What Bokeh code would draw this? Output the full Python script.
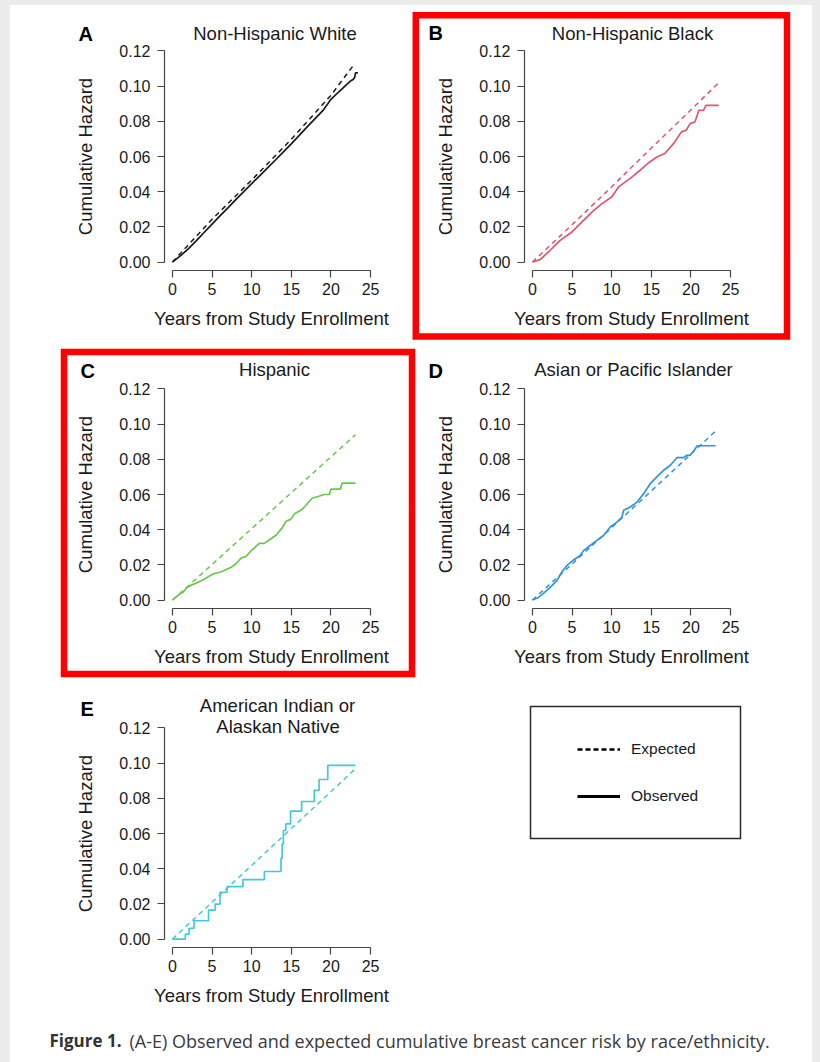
from bokeh.plotting import figure
from bokeh.layouts import row, column
from bokeh.models import (Range1d, FixedTicker, NumeralTickFormatter, Label,
                          BoxAnnotation, Legend, LegendItem, Spacer)
from bokeh.embed import file_html
from bokeh.resources import INLINE

# ---------------- data ----------------
x_ticks = [0, 5, 10, 15, 20, 25]
y_ticks = [0.00, 0.02, 0.04, 0.06, 0.08, 0.10, 0.12]
x_axis_label = "Years from Study Enrollment"
y_axis_label = "Cumulative Hazard"

# A  Non-Hispanic White
white_exp_x = [0, 5, 10, 15, 20, 23.0]
white_exp_y = [0, 0.0243, 0.0466, 0.0698, 0.0948, 0.1128]
white_obs_x = [0, 1, 2, 3, 4, 5, 6, 7, 8, 9, 10, 11, 12, 13, 14, 15, 16, 17,
               18, 19, 20, 21, 22, 22.5, 22.8, 23.0, 23.1, 23.4]
white_obs_y = [0, 0.0035, 0.0075, 0.0120, 0.0168, 0.0216, 0.0262, 0.0308,
               0.0355, 0.0400, 0.0446, 0.0490, 0.0535, 0.0580, 0.0626, 0.0672,
               0.0720, 0.0768, 0.0815, 0.0862, 0.0925, 0.0968, 0.1010, 0.1030,
               0.1038, 0.1050, 0.1075, 0.1075]

# B  Non-Hispanic Black
black_exp_x = [0, 5, 10, 15, 20, 23.4]
black_exp_y = [0, 0.0212, 0.0428, 0.0648, 0.0865, 0.1015]
black_obs_x = [0, 0.97, 2.24, 3.5, 4.98, 6.45, 7.5, 8.77, 10.0, 10.87, 12.3,
               13.6, 14.8, 15.7, 16.7, 17.8, 18.8, 19.4, 19.9, 20.5, 21.0,
               21.6, 21.9, 23.5]
black_obs_y = [0, 0.0014, 0.0067, 0.0123, 0.0171, 0.0237, 0.0284, 0.0332,
               0.0370, 0.0427, 0.0474, 0.0522, 0.0569, 0.0597, 0.0617, 0.0673,
               0.0740, 0.0749, 0.0787, 0.0796, 0.0863, 0.0863, 0.0891, 0.0891]

# C  Hispanic
hisp_exp_x = [0, 5, 10, 15, 20, 23.1]
hisp_exp_y = [0, 0.0202, 0.0406, 0.0610, 0.0814, 0.0940]
hisp_obs_x = [0, 0.5, 0.92, 1.34, 1.76, 2.39, 3.2, 4.06, 5.1, 6.16, 7.4, 8.0,
              8.67, 9.3, 9.92, 10.97, 11.6, 12.2, 13.1, 13.9, 14.3, 14.95,
              15.4, 16.2, 16.8, 17.25, 17.67, 18.5, 19.1, 19.8, 20.0, 21.2,
              21.4, 23.1]
hisp_obs_y = [0, 0.0019, 0.0034, 0.0044, 0.0068, 0.0085, 0.0100, 0.0120,
              0.0148, 0.0161, 0.0186, 0.0205, 0.0239, 0.0248, 0.0280, 0.0322,
              0.0322, 0.0341, 0.0370, 0.0413, 0.0447, 0.0460, 0.0490, 0.0510,
              0.0536, 0.0560, 0.0580, 0.0590, 0.0600, 0.0600, 0.0630, 0.0630,
              0.0665, 0.0665]

# D  Asian or Pacific Islander
asian_exp_x = [0, 5, 10, 15, 20, 23.1]
asian_exp_y = [0, 0.0205, 0.0412, 0.0620, 0.0830, 0.0960]
asian_obs_x = [0, 0.76, 1.39, 2.23, 3.08, 3.7, 4.34, 5.19, 6.03, 6.45, 7.29,
               8.14, 8.98, 9.82, 10.67, 11.3, 11.5, 12.35, 13.2, 14.04, 14.88,
               15.7, 16.57, 17.4, 18.25, 19.1, 19.5, 19.9, 20.4, 20.8, 21.4,
               23.1]
asian_obs_y = [0, 0.0015, 0.0038, 0.0072, 0.0110, 0.0158, 0.0196, 0.0228,
               0.0253, 0.0281, 0.0310, 0.0339, 0.0367, 0.0415, 0.0443, 0.0472,
               0.0510, 0.0529, 0.0557, 0.0605, 0.0662, 0.0700, 0.0738, 0.0766,
               0.0810, 0.0810, 0.0823, 0.0823, 0.0852, 0.0877, 0.0877, 0.0877]

# E  American Indian or Alaskan Native (step function)
aian_exp_x = [0, 7, 15, 23.1]
aian_exp_y = [0, 0.0293, 0.0628, 0.0968]
aian_obs_x = [0, 1.63, 2.1, 2.72, 4.56, 5.4, 6.0, 6.9, 8.9, 11.6, 13.7, 13.85,
              14.0, 14.3, 14.9, 16.3, 17.9, 18.5, 19.6, 23.1]
aian_obs_y = [0, 0.0028, 0.0061, 0.0104, 0.0165, 0.0199, 0.0266, 0.0298,
              0.0338, 0.0384, 0.0460, 0.0540, 0.0617, 0.0655, 0.0727, 0.0782,
              0.0845, 0.0907, 0.0987, 0.0987]

legend_labels = ["Expected", "Observed"]
caption_bold = "Figure 1."
caption_text = "(A-E) Observed and expected cumulative breast cancer risk by race/ethnicity."

# ---------------- layout / style ----------------
X_LO, X_HI = -1.0, 26.0          # R-style 4% padding of 0..25
Y_LO, Y_HI = -0.0048, 0.1248     # R-style 4% padding of 0..0.12
SX = 214 / (X_HI - X_LO)         # px per year
SY = 228 / (Y_HI - Y_LO)         # px per hazard unit
FONT = "Liberation Sans"
TXT = "#1a1a1a"
LIFT = 7                         # baseline correction for Label text (px)


def panel(W, H, L, T, color, exp_x, exp_y, obs_x, obs_y, step,
          letter, letter_pos, titles, box=None):
    # canvas covers the whole cell; data box starts at canvas px (L, T)
    x0 = X_LO - L / SX
    y1 = Y_HI + T / SY
    p = figure(width=W, height=H,
               x_range=Range1d(x0, x0 + W / SX),
               y_range=Range1d(y1 - H / SY, y1),
               output_backend="svg", toolbar_location=None,
               min_border=0, min_border_left=0, min_border_right=0,
               min_border_top=0, min_border_bottom=0,
               background_fill_color="white", border_fill_color="white",
               outline_line_color=None)

    def cx(px):
        return x0 + px / SX

    def cy(py):
        return y1 - py / SY

    p.grid.visible = False
    p.xaxis.fixed_location = Y_LO
    p.yaxis.fixed_location = X_LO
    p.xaxis.ticker = FixedTicker(ticks=x_ticks)
    p.yaxis.ticker = FixedTicker(ticks=y_ticks)
    p.xaxis.bounds = (x_ticks[0], x_ticks[-1])
    p.yaxis.bounds = (y_ticks[0], y_ticks[-1])
    p.yaxis.formatter = NumeralTickFormatter(format="0.00")
    p.xaxis.axis_label = x_axis_label
    p.yaxis.axis_label = y_axis_label
    for ax in (p.xaxis[0], p.yaxis[0]):
        ax.axis_line_color = "#444444"
        ax.axis_line_width = 1.2
        ax.major_tick_line_color = "#444444"
        ax.major_tick_line_width = 1.2
        ax.major_tick_out = 7
        ax.major_tick_in = 0
        ax.minor_tick_line_color = None
        ax.major_label_text_font = FONT
        ax.major_label_text_font_size = "16px"
        ax.major_label_text_color = TXT
        ax.axis_label_text_font = FONT
        ax.axis_label_text_font_size = "18.5px"
        ax.axis_label_text_font_style = "normal"
        ax.axis_label_text_color = TXT
    p.xaxis.major_label_standoff = 5
    p.yaxis.major_label_standoff = 7
    p.xaxis.axis_label_standoff = 10
    p.yaxis.axis_label_standoff = 20

    p.line(exp_x, exp_y, line_color=color, line_width=1.5, line_dash="5 4")
    if step:
        p.step(obs_x, obs_y, mode="after", line_color=color, line_width=1.7)
    else:
        p.line(obs_x, obs_y, line_color=color, line_width=1.7)

    p.add_layout(Label(x=cx(letter_pos[0]), y=cy(letter_pos[1] - LIFT), text=letter,
                       text_font=FONT, text_font_size="20px",
                       text_font_style="bold", text_color="black",
                       text_align="left", text_baseline="alphabetic"))
    for (t, tx, ty) in titles:
        p.add_layout(Label(x=cx(tx), y=cy(ty - LIFT), text=t, text_font=FONT,
                           text_font_size="18.5px", text_color=TXT,
                           text_align="center", text_baseline="alphabetic"))
    if box is not None:
        l, r, t, b = box
        p.add_layout(BoxAnnotation(left=cx(l), right=cx(r), top=cy(t),
                                   bottom=cy(b), fill_alpha=0,
                                   line_color="#ff0000", line_alpha=1.0,
                                   line_width=6.5, line_join="miter"))
    return p


pA = panel(395, 338, 154, 37, "#1a1a1a", white_exp_x, white_exp_y,
           white_obs_x, white_obs_y, False, "A", (68, 35),
           [("Non-Hispanic White", 264.5, 35)])
pB = panel(407, 338, 119, 37, "#E0566F", black_exp_x, black_exp_y,
           black_obs_x, black_obs_y, False, "B", (23, 34),
           [("Non-Hispanic Black", 227, 35)],
           box=(10.3, 381.5, 9.7, 331))
pC = panel(408, 338, 154, 37, "#68C84E", hisp_exp_x, hisp_exp_y,
           hisp_obs_x, hisp_obs_y, False, "C", (70, 34),
           [("Hispanic", 264, 33)],
           box=(53.5, 401.5, 8.5, 330.5))
pD = panel(394, 338, 106, 37, "#3294E0", asian_exp_x, asian_exp_y,
           asian_obs_x, asian_obs_y, False, "D", (10, 34),
           [("Asian or Pacific Islander", 215, 33)])
pE = panel(408, 339, 154, 38, "#45C9D8", aian_exp_x, aian_exp_y,
           aian_obs_x, aian_obs_y, True, "E", (70, 34),
           [("American Indian or", 267, 30.7), ("Alaskan Native", 267.5, 52.3)])

# legend cell (canvas pixels = data units here)
pL = figure(width=394, height=339, x_range=Range1d(0, 394), y_range=Range1d(339, 0),
            output_backend="svg", toolbar_location=None,
            x_axis_location=None, y_axis_location=None,
            min_border=0, min_border_left=0, min_border_right=0,
            min_border_top=0, min_border_bottom=0,
            outline_line_color=None, background_fill_color="white",
            border_fill_color="white")
pL.grid.visible = False
nan = float("nan")
r_exp = pL.line(x=[nan], y=[nan], line_color="black", line_width=2.6, line_dash="5 3")
r_obs = pL.line(x=[nan], y=[nan], line_color="black", line_width=3)
leg = Legend(items=[LegendItem(label=legend_labels[0], renderers=[r_exp]),
                    LegendItem(label=legend_labels[1], renderers=[r_obs])],
             location=(159, 214), glyph_width=43, glyph_height=20,
             label_height=20, spacing=27, padding=0, margin=0,
             label_standoff=11, border_line_color=None,
             background_fill_alpha=0, label_text_font=FONT,
             label_text_font_size="15.5px", label_text_color=TXT)
pL.add_layout(leg)
pL.add_layout(BoxAnnotation(left=112, right=322, top=25, bottom=157,
                            fill_alpha=0, line_color="#2a2a2a", line_alpha=1.0,
                            line_width=1.5, line_join="miter"))

# caption
pCap = figure(width=802, height=42, x_range=Range1d(0, 802), y_range=Range1d(42, 0),
              output_backend="svg", toolbar_location=None,
              x_axis_location=None, y_axis_location=None,
              min_border=0, min_border_left=0, min_border_right=0,
              min_border_top=0, min_border_bottom=0,
              outline_line_color=None, background_fill_color="white",
              border_fill_color="white")
pCap.grid.visible = False
pCap.add_layout(Label(x=39, y=27 - LIFT, text=caption_bold, text_font="Open Sans",
                      text_font_size="17px", text_font_style="bold",
                      text_color="#333333", text_baseline="alphabetic"))
pCap.add_layout(Label(x=119, y=27 - LIFT, text=caption_text, text_font="Open Sans",
                      text_font_size="18px", text_color="#3a3a3a",
                      text_baseline="alphabetic"))

inner = column(row(pA, pB), row(pC, pD), row(pE, pL), pCap,
               styles={"background-color": "white"})
page = column(Spacer(width=820, height=5),
              row(Spacer(width=10, height=1057), inner, Spacer(width=8, height=1057)),
              styles={"background-color": "#ececec"})

open("out.html", "w").write(file_html(page, INLINE, title="Figure 1"))
